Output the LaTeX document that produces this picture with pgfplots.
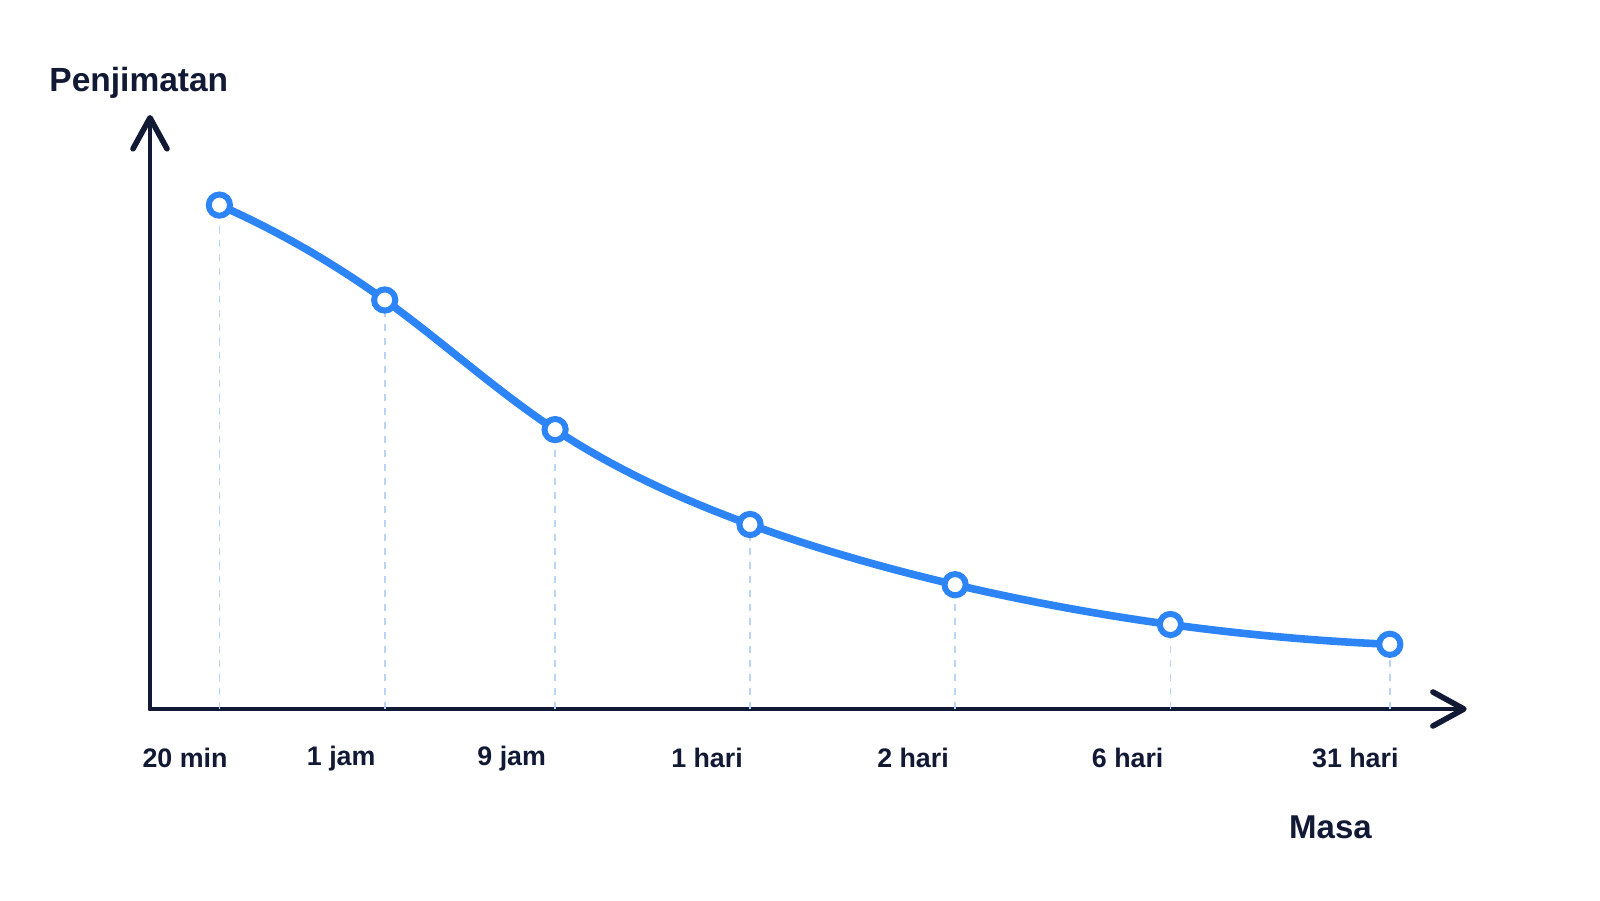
\documentclass[border=0pt]{standalone}
\usepackage{pgfplots}
\pgfplotsset{compat=1.18}
\usepackage{fontspec}
\setmainfont{Liberation Sans}
\usetikzlibrary{arrows.meta,hobby}
\definecolor{navy}{RGB}{17,25,52}
\definecolor{lineblue}{RGB}{44,132,247}
\definecolor{dashblue}{RGB}{185,212,247}
\pgfplotstableread{
x y
69.4 503.9
234.7 409.0
405.1 279.4
600.0 184.5
805.1 124.3
1020.4 84.5
1239.8 64.7
}\datatable
\begin{document}
\begin{tikzpicture}
\begin{axis}[
  x=0.5pt, y=0.5pt,
  xmin=0, xmax=1316.7, ymin=0, ymax=594,
  enlargelimits=false,
  clip=false,
  axis lines=left,
  axis line style={navy, line width=2.1pt, line cap=round,
    -{Straight Barb[length=15.5pt, width=17pt, round, line width=0.7pt 1]}},
  ytick=\empty,
  xtick={35,191.2,361.7,557,763,977.7,1205.3},
  xticklabels={20 min, 1 jam, 9 jam, 1 hari, 2 hari, 6 hari, 31 hari},
  major tick length=0pt,
  xticklabel style={anchor=center, yshift=-24.65pt, text=navy,
    font=\fontsize{13.4}{16}\selectfont\bfseries},
]
\addplot[ycomb, dashblue, line width=0.8pt, dash pattern=on 3.5pt off 3.5pt, no marks] table {\datatable};
\addplot[lineblue, line width=3.8pt, hobby, mark=*, mark size=5.3pt,
  mark options={fill=white, draw=lineblue, line width=3pt, solid}] table {\datatable};
\node[anchor=base, text=navy, font=\fontsize{16.75}{20}\selectfont\bfseries] at (axis cs:-11.2,617.3) {Penjimatan};
\node[anchor=base, text=navy, font=\fontsize{16.5}{20}\selectfont\bfseries] at (axis cs:1180.5,-129.3) {Masa};
\coordinate (bl) at (axis cs:-150,-191);
\coordinate (tr) at (axis cs:1450,709);
\end{axis}
\pgfresetboundingbox
\path[use as bounding box] (bl) rectangle (tr);
\end{tikzpicture}
\end{document}
